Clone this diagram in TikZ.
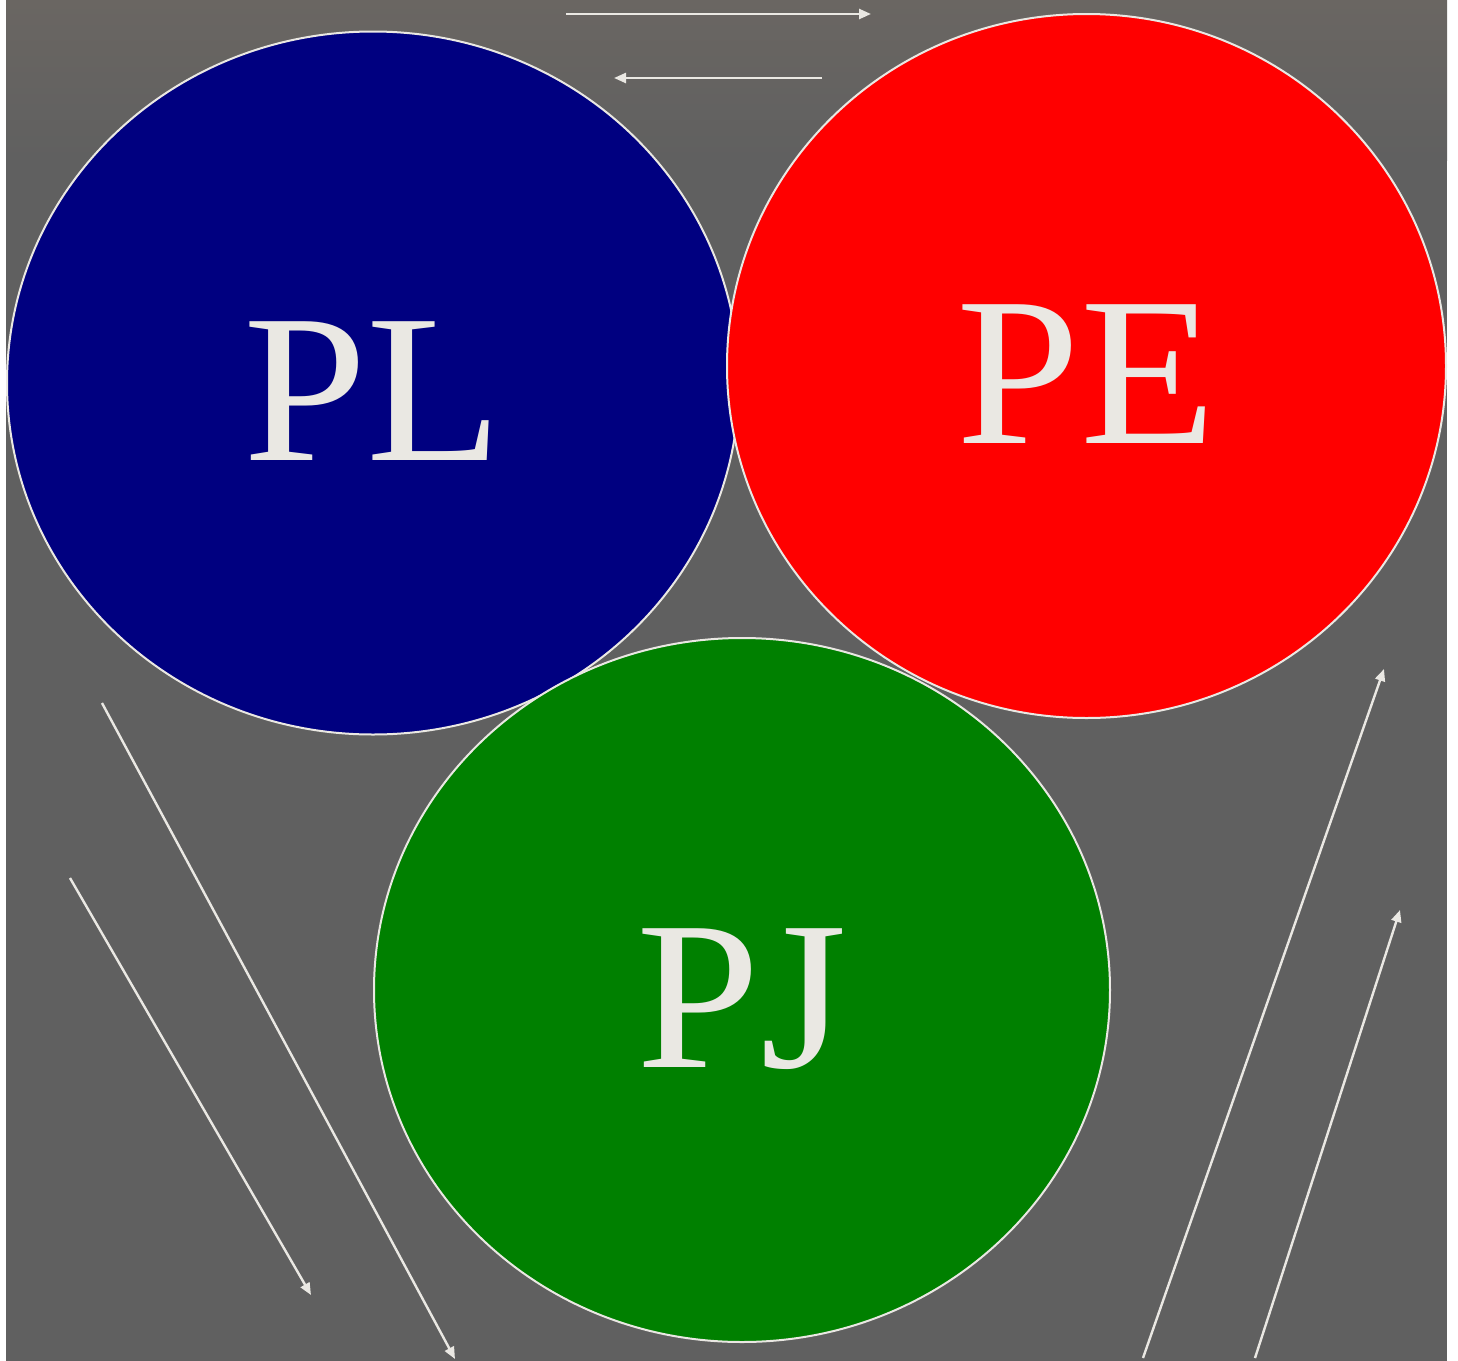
\documentclass[tikz,border=0pt]{standalone}
\usepackage{fontspec}
\setmainfont[FakeStretch=1.05]{Liberation Serif}
\usetikzlibrary{shapes.geometric,arrows.meta}
\definecolor{bggray}{RGB}{96,96,96}
\definecolor{bgtop}{RGB}{106,102,98}
\definecolor{linegray}{RGB}{234,232,227}
\definecolor{plblue}{RGB}{0,0,128}
\definecolor{pered}{RGB}{255,0,0}
\definecolor{pjgreen}{RGB}{0,128,0}
\tikzset{
  blob/.style={ellipse,draw=linegray,line width=1pt,inner sep=0pt,
    text=linegray,font=\fontsize{106}{120}\selectfont,
    text height=77.5pt,text depth=0pt},
  flow/.style={draw=linegray,line width=1.2pt,-{Triangle[length=6pt,width=5pt]}}
}
\begin{document}
\begin{tikzpicture}[x=0.5pt,y=-0.5pt]
      \useasboundingbox (0,0) rectangle (1458,1361);
      \fill[bggray] (6,0) rectangle (1447,1361);
      \shade[top color=bgtop,bottom color=bggray] (6,0) rectangle (1447,160);
      \draw
        (373,383) node[blob,fill=plblue,minimum width=366pt,minimum height=351.5pt] (PL){PL}
        (1086.5,366) node[blob,fill=pered,minimum width=359.5pt,minimum height=352pt] (PE){PE}
        (742,990) node[blob,fill=pjgreen,minimum width=368pt,minimum height=352pt] (PJ){PJ};
      \coordinate (a1) at (566,14);  \coordinate (b1) at (871,14);
      \coordinate (a2) at (822,78);  \coordinate (b2) at (614,78);
      \coordinate (a3) at (102,703); \coordinate (b3) at (455,1359);
      \coordinate (a4) at (70,878);  \coordinate (b4) at (311,1295);
      \coordinate (a5) at (1143,1358); \coordinate (b5) at (1384,669);
      \coordinate (a6) at (1255,1358); \coordinate (b6) at (1400,910);
      \begin{scope}[flow]
        \draw (a1) to (b1);
        \draw (a2) to (b2);
        \draw (a3) to (b3);
        \draw (a4) to (b4);
        \draw (a5) to (b5);
        \draw (a6) to (b6);
      \end{scope}
    \end{tikzpicture}
\end{document}
